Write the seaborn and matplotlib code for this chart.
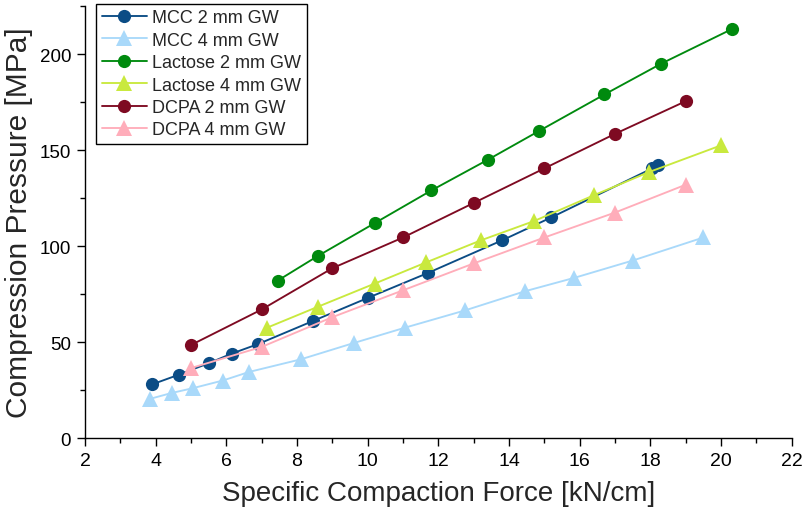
import numpy as np
import pandas as pd
import matplotlib
matplotlib.use("Agg")
import matplotlib.pyplot as plt
from matplotlib.ticker import MultipleLocator
import seaborn as sns

# Specific compaction force [kN/cm] and compression pressure [MPa] per formulation / gap width
mcc2_x = [3.9, 4.65, 5.5, 6.15, 6.9, 8.45, 10.0, 11.7, 13.8, 15.2, 18.05, 18.2]
mcc2_y = [28, 33, 39, 44, 49, 61, 73, 86, 103, 115, 140.5, 142]

mcc4_x = [3.85, 4.45, 5.05, 5.9, 6.65, 8.1, 9.6, 11.05, 12.75, 14.45, 15.85, 17.5, 19.5]
mcc4_y = [20.5, 23.5, 26, 30, 34.5, 41, 49.5, 57.5, 66.5, 76.5, 83.5, 92.5, 104.5]

lac2_x = [7.45, 8.6, 10.2, 11.8, 13.4, 14.85, 16.7, 18.3, 20.3]
lac2_y = [82, 95, 112, 129, 145, 160, 179, 195, 213]

lac4_x = [7.15, 8.6, 10.2, 11.65, 13.2, 14.7, 16.4, 17.95, 20.0]
lac4_y = [57.5, 68.5, 80.5, 91.5, 103, 113, 126.5, 138.5, 152.5]

dcpa2_x = [5.0, 7.0, 9.0, 11.0, 13.0, 15.0, 17.0, 19.0]
dcpa2_y = [48.5, 67, 88.5, 104.5, 122.5, 140.5, 158.5, 175.5]

dcpa4_x = [5.0, 7.0, 9.0, 11.0, 13.0, 15.0, 17.0, 19.0]
dcpa4_y = [36.5, 47.5, 63, 77, 91, 104.5, 117.5, 132]

labels = ["MCC 2 mm GW", "MCC 4 mm GW", "Lactose 2 mm GW",
          "Lactose 4 mm GW", "DCPA 2 mm GW", "DCPA 4 mm GW"]
colors = ["#0B4C85", "#A9D9FA", "#008A0E", "#C9E93E", "#7E0A22", "#FFADBA"]
markers = ["o", "^", "o", "^", "o", "^"]

series = [(mcc2_x, mcc2_y), (mcc4_x, mcc4_y), (lac2_x, lac2_y),
          (lac4_x, lac4_y), (dcpa2_x, dcpa2_y), (dcpa4_x, dcpa4_y)]

frames = []
for name, (xs, ys) in zip(labels, series):
    frames.append(pd.DataFrame({"force": xs, "pressure": ys, "series": name}))
df = pd.concat(frames, ignore_index=True)

sns.set_style("ticks")
plt.rcParams["font.family"] = ["Liberation Sans", "DejaVu Sans"]

fig = plt.figure(figsize=(8.05, 5.1), dpi=100)
ax = fig.add_axes([0.1056, 0.139, 0.878, 0.847])

sns.lineplot(
    data=df, x="force", y="pressure", hue="series", style="series",
    hue_order=labels, style_order=labels,
    palette=dict(zip(labels, colors)),
    markers=dict(zip(labels, markers)), dashes=False,
    estimator=None, sort=False, linewidth=1.35, markersize=9.5,
    markeredgewidth=0, ax=ax,
)


def size_markers(lines):
    # triangles read smaller than circles at equal size, so enlarge them
    for ln in lines:
        if ln.get_marker() == "^":
            ln.set_markersize(11)
        elif ln.get_marker() == "o":
            ln.set_markersize(9.5)


size_markers(ax.lines)

ax.set_xlim(2, 22)
ax.set_ylim(0, 225)
ax.xaxis.set_major_locator(MultipleLocator(2))
ax.xaxis.set_minor_locator(MultipleLocator(1))
ax.yaxis.set_major_locator(MultipleLocator(50))
ax.yaxis.set_minor_locator(MultipleLocator(25))
ax.tick_params(axis="both", which="major", direction="out", length=6,
               width=1, labelsize=13.5, colors="black", pad=4)
ax.tick_params(axis="both", which="minor", direction="out", length=3.5,
               width=1, colors="black")
for lbl in ax.get_xticklabels():
    lbl.set_fontfamily(["Liberation Sans Narrow", "Liberation Sans"])
    lbl.set_fontsize(14)

sns.despine(ax=ax)
for side in ("left", "bottom"):
    ax.spines[side].set_color("black")
    ax.spines[side].set_linewidth(1)

ax.set_xlabel("Specific Compaction Force [kN/cm]", fontsize=20, labelpad=8)
ax.set_ylabel("Compression Pressure [MPa]", fontsize=21.5, labelpad=5)

handles, _ = ax.get_legend_handles_labels()
leg = ax.legend(handles=handles, labels=labels, loc="upper left",
                bbox_to_anchor=(0.016, 1.005), fontsize=13, frameon=True,
                fancybox=False, edgecolor="black", framealpha=1,
                handlelength=2.5, handletextpad=0.3, labelspacing=0.3,
                borderpad=0.3, borderaxespad=0)
leg.get_frame().set_linewidth(1)
size_markers(leg.get_lines())

fig.savefig("out.png", dpi=100)
